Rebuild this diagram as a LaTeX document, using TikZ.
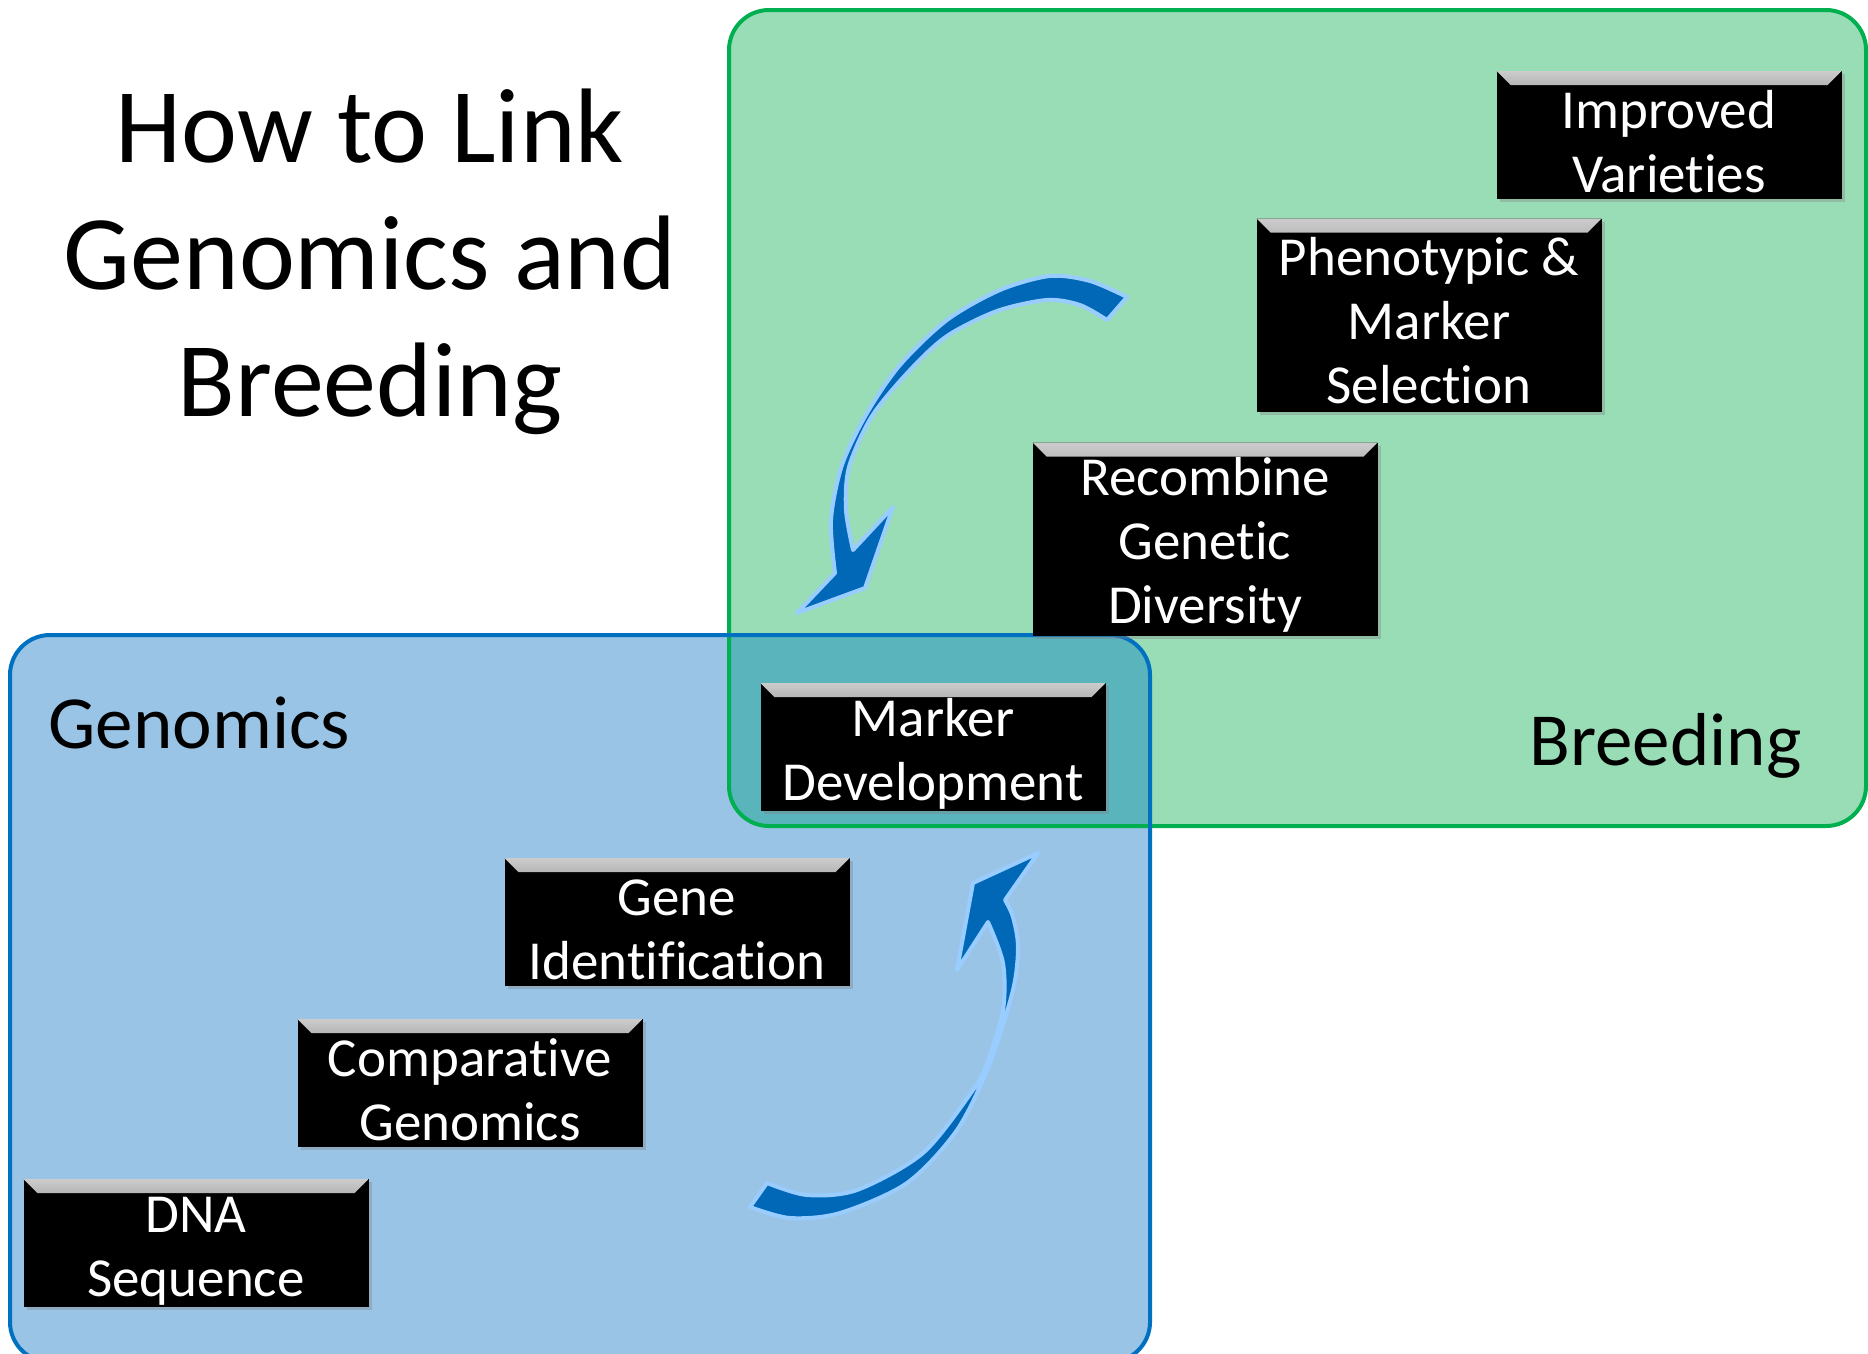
\documentclass[tikz,border=0pt]{standalone}
\usepackage{fontspec}
\setmainfont{Carlito}[Ligatures={NoCommon}]
\usetikzlibrary{shadows}
\definecolor{breedgreen}{RGB}{153,221,183}
\definecolor{breedline}{RGB}{0,176,80}
\definecolor{genblue}{RGB}{153,196,230}
\definecolor{genline}{RGB}{0,112,192}
\definecolor{overlapteal}{RGB}{90,180,188}
\definecolor{arrowblue}{RGB}{0,104,182}
\definecolor{arrowedge}{RGB}{153,204,255}
\begin{document}
\begin{tikzpicture}[x=1pt, y=-1pt,
    darkbox/.style={rectangle, fill=black, text=white, align=center, inner sep=0pt,
      minimum width=345pt, font=\fontsize{55}{64}\selectfont,
      drop shadow={shadow xshift=3pt, shadow yshift=-3pt, opacity=0.35},
      path picture={\fill[top color=gray!40, bottom color=black]
        (path picture bounding box.north west) -- (path picture bounding box.north east)
        -- ([xshift=-14pt,yshift=-14pt]path picture bounding box.north east)
        -- ([xshift=14pt,yshift=-14pt]path picture bounding box.north west) -- cycle;}},
    stepbox/.style={darkbox, minimum height=128pt, execute at begin node={\rule{0pt}{116pt}}},
    tallbox/.style={darkbox, minimum height=193pt, execute at begin node={\rule{0pt}{178pt}}},
    bigarrow/.style={fill=arrowblue, draw=arrowedge, line width=4pt, line join=round}]
    \useasboundingbox (0,0) rectangle (1868,1353);

    % Regions
    \fill[breedgreen, rounded corners=40pt] (729,10) rectangle (1866,826);
    \fill[genblue, rounded corners=40pt] (10,635) rectangle (1150,1362);
    \begin{scope}
      \clip[rounded corners=40pt] (729,10) rectangle (1866,826);
      \fill[overlapteal, rounded corners=40pt] (10,635) rectangle (1150,1362);
    \end{scope}
    \draw[breedline, line width=4pt, rounded corners=40pt] (729,10) rectangle (1866,826);
    \draw[genline, line width=4pt, rounded corners=40pt] (10,635) rectangle (1150,1362);

    % Title and region labels
    \node[align=center, font=\fontsize{106}{127}\selectfont] (Title) at (370,262) {How to Link\\Genomics and\\Breeding};
    \node[anchor=base west, font=\fontsize{75}{90}\selectfont] (Genomics) at (45,748) {Genomics};
    \node[anchor=base east, font=\fontsize{75}{90}\selectfont] (Breeding) at (1805,765) {Breeding};

    % Steps
    \node[stepbox] (Varieties) at (1669,135) {Improved\\Varieties};
    \node[tallbox] (Selection) at (1429,315) {Phenotypic \&\\Marker\\Selection};
    \node[tallbox] (Recombine) at (1205,539) {Recombine\\Genetic\\Diversity};
    \node[stepbox] (MarkerDev) at (933,747) {Marker\\Development};
    \node[stepbox] (GeneID) at (677,922) {Gene\\Identification};
    \node[stepbox] (CompGen) at (470,1083) {Comparative\\Genomics};
    \node[stepbox] (DNA) at (196,1243) {DNA\\Sequence};

    % Curved arrows
    \filldraw[bigarrow] plot[smooth] coordinates {(1127,297) (1090,281) (1050,276) (1000,290) (947,320) (900,365) (867,413) (842,465) (831,520) (835,573)}
      -- (797,613) -- (865,588) -- (893,507)
      -- plot[smooth] coordinates {(853,550) (846,510) (849,467) (872,416) (910,370) (947,336) (997,311) (1047,300) (1080,305) (1107,320)} -- cycle;
    \filldraw[bigarrow] plot[smooth] coordinates {(750,1207) (790,1218) (840,1213) (907,1183) (957,1130) (990,1063) (1013,990) (1018,947) (1013,917) (1005,900)}
      -- (1038,853) -- (973,883) -- (957,970)
      -- plot[smooth] coordinates {(988,922) (1003,963) (1003,1010) (987,1063) (973,1090) (923,1153) (857,1190) (807,1195) (767,1183)} -- cycle;

    % Page number
    \node[gray, font=\fontsize{30}{36}\selectfont] (PageNo) at (1775,1366) {3};
\end{tikzpicture}
\end{document}
